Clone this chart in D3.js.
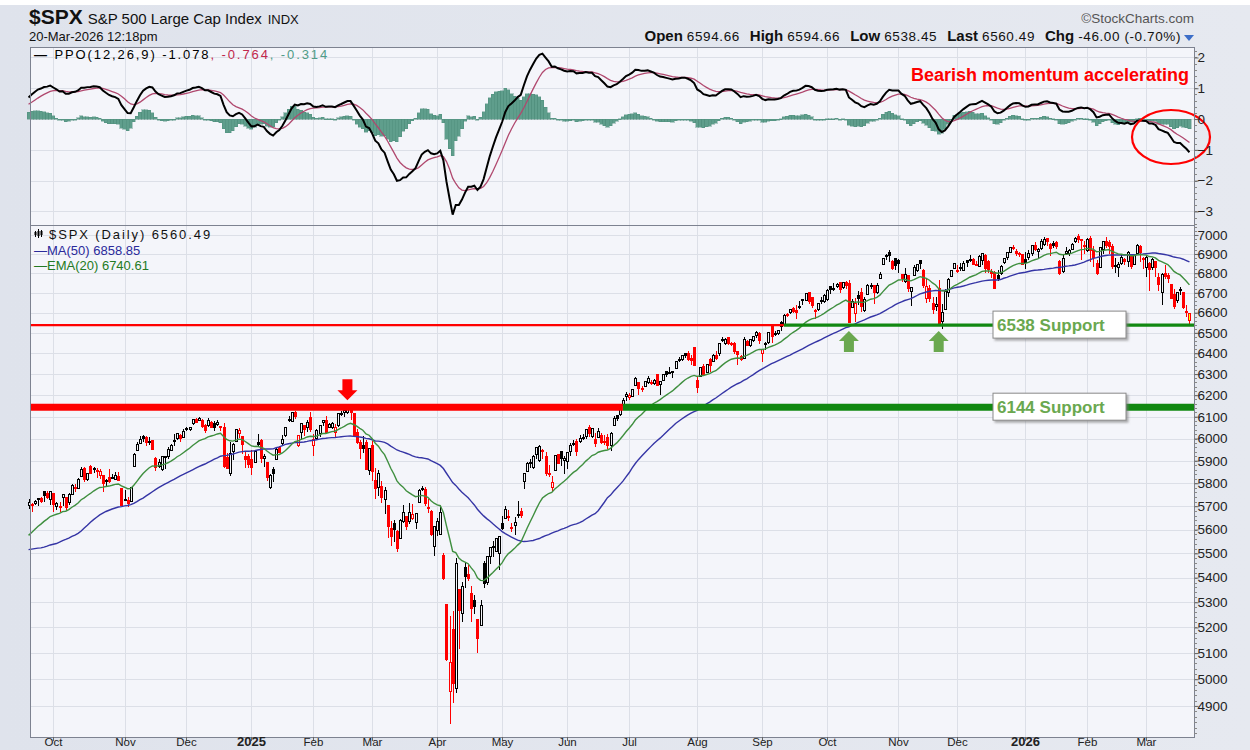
<!DOCTYPE html>
<html>
<head>
<meta charset="utf-8">
<script src="https://cdn.jsdelivr.net/npm/d3@7"></script>
<style>
  body { margin: 0; background: #fff; }
  text { font-family: "Liberation Sans", Arial, sans-serif; }
</style>
</head>
<body>
<svg id="chart" width="1250" height="750"></svg>
<script>
// ---------------------------------------------------------------
// Data: daily OHLC for $SPX, [open, high, low, close]
// ---------------------------------------------------------------

// closes before the first visible bar (only used to seed the averages / PPO)
const warmupCloses = [
  5283, 5291, 5354, 5352, 5347, 5360, 5375, 5421, 5433, 5431, 5473, 5487, 5473, 5464, 5447, 5469, 5477, 5482, 5460,
  5475, 5509, 5537, 5567, 5572, 5577, 5633, 5584, 5615, 5631, 5667, 5588, 5544, 5505, 5564, 5555, 5427, 5399, 5459, 5463, 5436, 5522,
  5446, 5346, 5186, 5240, 5199, 5319, 5344, 5344, 5434, 5455, 5543, 5554, 5608, 5597, 5620, 5571, 5634, 5616, 5625, 5592, 5592, 5648,
  5528, 5520, 5503, 5408, 5471, 5496, 5554, 5596, 5626, 5634, 5635, 5618
];

const barsSep24 = [
  [5702,5733,5686,5714],[5709,5716,5677,5703],[5712,5725,5704,5719],[5727,5736,5702,5733],
  [5733,5741,5714,5722],[5762,5767,5717,5745],[5755,5765,5730,5738],[5727,5763,5704,5762]
];
const barsOct24 = [
  [5757,5757,5677,5709],[5698,5720,5683,5710],[5698,5718,5675,5700],[5737,5753,5703,5751],
  [5737,5739,5684,5696],[5714,5757,5704,5751],[5752,5797,5752,5792],[5778,5796,5763,5780],
  [5775,5823,5775,5815],[5829,5871,5829,5860],[5866,5871,5804,5815],[5816,5846,5809,5842],
  [5875,5879,5840,5841],[5860,5872,5846,5865],[5858,5866,5824,5854],[5833,5864,5820,5851],
  [5835,5835,5762,5797],[5810,5817,5784,5810],[5826,5862,5800,5808],[5826,5843,5822,5824],
  [5815,5848,5813,5833],[5832,5851,5810,5814],[5775,5775,5703,5705]
];
const barsNov24 = [
  [5723,5772,5723,5729],[5725,5741,5696,5713],[5722,5783,5722,5783],[5873,5936,5873,5929],
  [5947,5983,5947,5973],[5977,6012,5976,5996],[6009,6017,5986,6001],[6003,6010,5966,5984],
  [5985,6009,5970,5985],[5989,5993,5946,5949],[5912,5916,5853,5871],[5874,5909,5866,5894],
  [5860,5920,5855,5917],[5917,5920,5861,5917],[5917,5963,5907,5949],[5944,5973,5943,5969],
  [5993,6020,5964,5987],[6000,6026,5992,6022],[6015,6021,5984,5999],[6003,6044,6003,6032]
];
const barsDec24 = [
  [6040,6053,6035,6047],[6042,6053,6033,6050],[6069,6089,6061,6086],[6089,6092,6071,6075],
  [6081,6099,6079,6090],[6083,6088,6048,6053],[6058,6066,6024,6035],[6061,6092,6053,6084],
  [6074,6079,6051,6051],[6068,6078,6035,6051],[6063,6085,6058,6074],[6053,6057,6036,6051],
  [6048,6070,5868,5872],[5913,5935,5866,5867],[5842,5982,5833,5931],[5941,5979,5902,5974],
  [5985,6041,5983,6040],[6025,6050,6004,6038],[6007,6007,5932,5971],[5920,5941,5869,5907],
  [5920,5930,5867,5882]
];
const barsJan25 = [
  [5904,5949,5836,5869],[5892,5950,5889,5942],[5983,6021,5960,5975],[5993,6000,5890,5909],
  [5910,5928,5874,5918],[5890,5890,5809,5827],[5782,5842,5773,5836],[5859,5871,5807,5843],
  [5906,5961,5906,5950],[5961,5965,5935,5937],[5976,6014,5967,5997],[6015,6052,6006,6049],
  [6081,6101,6077,6086],[6076,6119,6074,6119],[6121,6128,6089,6101],[5970,6018,5962,6012],
  [6026,6069,5995,6068],[6058,6063,6013,6039],[6051,6086,6029,6071],[6097,6121,6030,6041]
];
const barsFeb25 = [
  [5970,6022,5923,5995],[5998,6042,5991,6038],[6021,6062,6007,6061],[6072,6084,6055,6084],
  [6083,6101,6020,6026],[6048,6073,6048,6066],[6050,6076,6043,6069],[6026,6064,6004,6052],
  [6061,6116,6051,6115],[6115,6127,6104,6115],[6121,6129,6099,6130],[6118,6147,6111,6144],
  [6134,6134,6084,6118],[6115,6115,6008,6013],[6027,6043,5977,5983],[5983,5992,5908,5955],
  [5970,6010,5933,5956],[5982,5994,5858,5862],[5857,5959,5837,5955]
];
const barsMar25 = [
  [5969,5987,5810,5850],[5812,5866,5733,5778],[5782,5860,5743,5843],[5787,5812,5712,5739],
  [5727,5783,5667,5770],[5705,5705,5565,5615],[5603,5636,5529,5572],[5624,5642,5546,5599],
  [5594,5598,5505,5522],[5563,5645,5563,5639],[5635,5704,5628,5675],[5655,5659,5597,5615],
  [5633,5715,5622,5675],[5646,5711,5641,5663],[5631,5670,5603,5668],[5718,5775,5718,5768],
  [5775,5786,5765,5777],[5771,5784,5700,5712],[5696,5732,5671,5693],[5679,5685,5573,5581],
  [5527,5616,5489,5612]
];
const barsApr25 = [
  [5598,5650,5571,5633],[5580,5695,5578,5671],[5492,5500,5390,5397],[5292,5292,5069,5074],
  [4953,5246,4835,5062],[5193,5267,4910,4983],[4966,5481,4950,5457],[5353,5353,5115,5268],
  [5256,5381,5221,5363],[5441,5459,5358,5406],[5412,5450,5387,5397],[5336,5367,5220,5276],
  [5306,5328,5255,5283],[5232,5232,5101,5158],[5207,5309,5207,5288],[5457,5469,5357,5376],
  [5381,5490,5371,5485],[5489,5528,5455,5525],[5529,5553,5484,5529],[5508,5563,5505,5561],
  [5500,5569,5433,5569]
];
const barsMay25 = [
  [5626,5659,5597,5604],[5646,5700,5646,5687],[5656,5683,5636,5650],[5605,5629,5588,5607],
  [5619,5654,5579,5631],[5664,5721,5650,5664],[5679,5691,5650,5660],[5808,5845,5776,5844],
  [5854,5894,5854,5887],[5888,5907,5868,5893],[5869,5924,5862,5917],[5929,5959,5907,5958],
  [5902,5969,5896,5964],[5945,5954,5908,5940],[5921,5939,5830,5845],[5842,5879,5826,5842],
  [5781,5830,5767,5803],[5855,5922,5855,5922],[5926,5931,5885,5889],[5939,5944,5876,5912],
  [5903,5922,5843,5912]
];
const barsJun25 = [
  [5896,5937,5861,5936],[5939,5981,5922,5970],[5978,5991,5967,5971],[5985,5999,5921,5939],
  [5987,6017,5978,6000],[6004,6022,5994,6006],[6010,6043,6000,6039],[6050,6060,6008,6022],
  [6010,6046,6004,6045],[5997,6027,5963,5977],[6005,6050,6005,6033],[6012,6024,5974,5983],
  [5988,6018,5971,5981],[6005,6019,5953,5968],[5970,6028,5943,6025],[6061,6101,6061,6092],
  [6104,6108,6080,6092],[6112,6146,6105,6141],[6151,6187,6132,6173],[6193,6215,6175,6205]
];
const barsJul25 = [
  [6187,6211,6177,6198],[6192,6228,6191,6227],[6246,6285,6246,6279],[6259,6263,6201,6230],
  [6233,6242,6217,6226],[6241,6269,6237,6263],[6262,6290,6251,6280],[6256,6270,6247,6260],
  [6255,6275,6247,6269],[6296,6302,6242,6244],[6250,6265,6201,6264],[6268,6301,6265,6297],
  [6313,6316,6285,6297],[6304,6336,6303,6306],[6307,6310,6282,6310],[6326,6360,6322,6359],
  [6369,6381,6360,6363],[6370,6390,6363,6389],[6397,6401,6378,6390],[6399,6410,6363,6371],
  [6375,6393,6343,6363],[6428,6428,6337,6339]
];
const barsAug25 = [
  [6271,6288,6212,6238],[6287,6330,6284,6330],[6337,6346,6290,6299],[6309,6350,6307,6345],
  [6370,6379,6309,6340],[6358,6395,6358,6389],[6389,6410,6366,6373],[6397,6446,6386,6446],
  [6462,6481,6457,6467],[6449,6473,6441,6469],[6478,6481,6441,6450],[6445,6456,6437,6449],
  [6446,6457,6396,6411],[6407,6408,6343,6396],[6384,6393,6361,6370],[6375,6478,6374,6467],
  [6458,6467,6438,6439],[6439,6466,6430,6466],[6462,6483,6457,6481],[6486,6508,6476,6502],
  [6499,6502,6443,6460]
];
const barsSep25 = [
  [6401,6416,6360,6416],[6445,6454,6416,6448],[6452,6503,6445,6502],[6532,6533,6449,6482],
  [6498,6509,6484,6495],[6498,6515,6488,6513],[6550,6556,6509,6532],[6539,6592,6538,6587],
  [6593,6600,6577,6584],[6601,6616,6594,6615],[6621,6626,6600,6607],[6611,6638,6569,6600],
  [6632,6656,6617,6632],[6661,6671,6637,6664],[6659,6695,6656,6694],[6700,6701,6641,6657],
  [6674,6680,6623,6638],[6609,6620,6570,6605],[6614,6650,6607,6644],[6661,6679,6642,6661],
  [6657,6693,6648,6688]
];
const barsOct25 = [
  [6664,6719,6659,6711],[6731,6731,6696,6715],[6722,6750,6708,6716],[6734,6749,6725,6740],
  [6751,6755,6700,6715],[6726,6756,6718,6754],[6755,6762,6719,6735],[6746,6764,6550,6553],
  [6624,6667,6624,6655],[6594,6676,6551,6644],[6684,6711,6639,6671],[6699,6724,6602,6629],
  [6612,6679,6605,6664],[6690,6745,6690,6735],[6737,6752,6717,6735],[6738,6741,6645,6699],
  [6701,6749,6696,6738],[6775,6808,6768,6792],[6843,6876,6843,6875],[6889,6901,6869,6891],
  [6908,6920,6856,6891],[6859,6869,6815,6822],[6874,6877,6815,6840]
];
const barsNov25 = [
  [6867,6876,6803,6852],[6794,6797,6753,6772],[6760,6829,6751,6796],[6787,6791,6704,6720],
  [6708,6731,6631,6729],[6789,6841,6789,6832],[6816,6848,6806,6847],[6866,6870,6820,6851],
  [6815,6822,6724,6737],[6669,6775,6647,6734],[6722,6738,6653,6672],[6648,6677,6592,6617],
  [6631,6680,6607,6642],[6722,6767,6535,6539],[6557,6642,6521,6603],[6618,6717,6618,6705],
  [6700,6777,6681,6766],[6782,6818,6779,6813],[6822,6850,6822,6849]
];
const barsDec25 = [
  [6812,6843,6800,6812],[6830,6851,6810,6829],[6815,6862,6810,6850],[6866,6868,6834,6857],
  [6867,6895,6858,6870],[6872,6880,6841,6847],[6846,6864,6835,6841],[6837,6895,6834,6887],
  [6866,6904,6845,6901],[6890,6902,6800,6827],[6860,6866,6801,6817],[6810,6820,6776,6800],
  [6805,6812,6720,6721],[6790,6815,6760,6775],[6800,6840,6790,6834],[6855,6880,6850,6878],
  [6880,6912,6870,6909],[6910,6937,6905,6932],[6935,6945,6920,6930],[6915,6924,6890,6905],
  [6905,6910,6885,6896],[6895,6900,6840,6845]
];
const barsJan26 = [
  [6870,6912,6820,6858],[6880,6920,6870,6902],[6905,6945,6890,6944],[6945,6965,6915,6921],
  [6915,6930,6880,6921],[6930,6980,6920,6966],[6950,6990,6940,6977],[6980,6986,6940,6963],
  [6950,6955,6890,6926],[6955,6970,6930,6944],[6960,6968,6925,6940],[6860,6870,6790,6797],
  [6810,6900,6800,6876],[6900,6935,6895,6913],[6905,6925,6890,6916],[6925,6960,6920,6950],
  [6965,6990,6955,6979],[6990,7003,6960,6978],[6975,6980,6870,6969],[6945,6970,6900,6939]
];
const barsFeb26 = [
  [6920,6985,6910,6976],[6980,6993,6860,6918],[6920,6940,6830,6883],[6850,6870,6790,6798],
  [6830,6935,6825,6932],[6925,6970,6900,6964],[6965,6990,6930,6942],[6960,6975,6900,6941],
  [6940,6950,6820,6833],[6840,6880,6800,6836],[6830,6860,6780,6843],[6850,6900,6840,6881],
  [6870,6880,6840,6862],[6860,6915,6830,6909],[6890,6895,6820,6837],[6845,6900,6840,6890],
  [6900,6950,6895,6946],[6940,6945,6860,6908],[6870,6885,6820,6878]
];
const barsMar26 = [
  [6830,6890,6780,6881],[6850,6860,6710,6817],[6830,6880,6815,6869],[6860,6865,6780,6830],
  [6780,6800,6710,6740],[6700,6800,6640,6795],[6800,6840,6770,6781],[6790,6800,6750,6775],
  [6740,6745,6670,6672],[6690,6720,6620,6632],[6660,6700,6650,6699],[6710,6730,6690,6716],
  [6700,6705,6620,6624],[6600,6640,6580,6606],[6594.66,6594.66,6538.45,6560.49]
];

// market holidays inside the window (used to build the trading-day axis)
const holidays = [
  "2024-11-28","2024-12-25","2025-01-01","2025-01-09","2025-01-20","2025-02-17","2025-04-18",
  "2025-05-26","2025-06-19","2025-07-04","2025-09-01","2025-11-27","2025-12-25","2026-01-01",
  "2026-01-19","2026-02-16"
];

const priceTicks = d3.range(4900, 7001, 100);
const ppoTicks = [2, 1, 0, -1, -2, -3];

// horizontal support lines: level, and the day the line turns from red to green
const supportLevels = [6538, 6144];
const supportFlipDates = ["2025-09-11", "2025-06-27"];
const supportLabels = ["6538 Support", "6144 Support"];
// arrows marking the top and the two tests of support
const upArrowDates = ["2025-10-10", "2025-11-20"];
const downArrowDates = ["2025-02-19"];

// ---------------------------------------------------------------
// Layout
// ---------------------------------------------------------------
const W = 1250, H = 750;
const plotL = 30, plotR = 1194;
const ppoTop = 47, ppoBot = 225;
const priceTop = 225, priceBot = 737;
const plotBg = "#f4f5fa", gridCol = "#dcdfe7";
const upCol = "#000000", downCol = "#ff0000";

const svg = d3.select("#chart");

// Build trading days
const fmt = d3.utcFormat("%Y-%m-%d");
const allDays = d3.utcDays(new Date(Date.UTC(2024, 8, 19)), new Date(Date.UTC(2026, 2, 21)))
    .filter(d => d.getUTCDay() % 6 !== 0 && !holidays.includes(fmt(d)));

const barsAll = [].concat(barsSep24, barsOct24, barsNov24, barsDec24, barsJan25, barsFeb25,
    barsMar25, barsApr25, barsMay25, barsJun25, barsJul25, barsAug25, barsSep25, barsOct25,
    barsNov25, barsDec25, barsJan26, barsFeb26, barsMar26);

const n = Math.min(allDays.length, barsAll.length);
const days = allDays.slice(allDays.length - n);
const bars = barsAll.slice(barsAll.length - n).map((b, i) => ({
    date: days[i], key: fmt(days[i]), o: b[0], h: b[1], l: b[2], c: b[3]
}));

// Indicators
const closes = warmupCloses.concat(bars.map(b => b.c));
const off = warmupCloses.length;

function ema(vals, len) {
    const k = 2 / (len + 1);
    const out = [];
    let prev = null, start = vals.findIndex(v => v != null);
    vals.forEach((v, i) => {
        if (i < start + len - 1) { out.push(null); return; }
        if (i === start + len - 1) { prev = d3.mean(vals.slice(start, start + len)); out.push(prev); return; }
        prev = v * k + prev * (1 - k);
        out.push(prev);
    });
    return out;
}
function sma(vals, len) {
    return vals.map((v, i) => i < len - 1 ? null : d3.mean(vals.slice(i - len + 1, i + 1)));
}

const ema12 = ema(closes, 12), ema26 = ema(closes, 26);
const ppo = closes.map((c, i) => (ema12[i] == null || ema26[i] == null) ? null : (ema12[i] - ema26[i]) / ema26[i] * 100);
const signal = ema(ppo, 9);
const hist = ppo.map((p, i) => (p == null || signal[i] == null) ? null : p - signal[i]);
const ma50 = sma(closes, 50);
const ema20 = ema(closes, 20);

bars.forEach((b, i) => {
    b.prev = closes[off + i - 1];
    b.ma50 = ma50[off + i];
    b.ema20 = ema20[off + i];
    b.ppo = ppo[off + i];
    b.sig = signal[off + i];
    b.hist = hist[off + i];
});

// Scales
const x = d3.scaleBand().domain(bars.map(b => b.key)).range([27, 1191]).paddingInner(0);
const xc = k => x(k) + x.bandwidth() / 2;
const yP = d3.scaleLog().domain([4786, 7053]).range([priceBot, priceTop]);
const yO = d3.scaleLinear().domain([-3.44, 2.34]).range([ppoBot, ppoTop]);

// ---------------------------------------------------------------
// Background / frame
// ---------------------------------------------------------------
const defs = svg.append("defs");
const bgGrad = defs.append("linearGradient").attr("id", "bg").attr("x1", 0).attr("y1", 0).attr("x2", 1).attr("y2", 0);
bgGrad.append("stop").attr("offset", "0%").attr("stop-color", "#dfe3ec");
bgGrad.append("stop").attr("offset", "100%").attr("stop-color", "#e6e9f0");
const shadow = defs.append("filter").attr("id", "shadow").attr("x", "-10%").attr("y", "-20%").attr("width", "130%").attr("height", "160%");
shadow.append("feDropShadow").attr("dx", 2).attr("dy", 2).attr("stdDeviation", 1.2).attr("flood-color", "#777").attr("flood-opacity", 0.6);

svg.append("rect").attr("x", 0).attr("y", 0).attr("width", W).attr("height", H).attr("fill", "#fff");
svg.append("rect").attr("x", 0).attr("y", 5).attr("width", W).attr("height", H - 5).attr("fill", "url(#bg)");

[[ppoTop, ppoBot], [priceTop, priceBot]].forEach(([t, b]) => {
    svg.append("rect").attr("x", plotL).attr("y", t).attr("width", plotR - plotL).attr("height", b - t)
        .attr("fill", plotBg);
});

// Month ticks
const monthIdx = bars.map((b, i) => i).filter(i => i > 0 && bars[i].date.getUTCMonth() !== bars[i - 1].date.getUTCMonth());
const gGrid = svg.append("g").attr("shape-rendering", "crispEdges");
monthIdx.forEach(i => {
    const xx = Math.round(xc(bars[i].key)) + 0.5;
    gGrid.append("line").attr("x1", xx).attr("x2", xx).attr("y1", ppoTop).attr("y2", ppoBot).attr("stroke", gridCol);
    gGrid.append("line").attr("x1", xx).attr("x2", xx).attr("y1", priceTop).attr("y2", priceBot).attr("stroke", gridCol);
});
priceTicks.forEach(v => {
    const yy = Math.round(yP(v)) + 0.5;
    gGrid.append("line").attr("x1", plotL).attr("x2", plotR).attr("y1", yy).attr("y2", yy).attr("stroke", gridCol);
});
ppoTicks.forEach(v => {
    const yy = Math.round(yO(v)) + 0.5;
    gGrid.append("line").attr("x1", plotL).attr("x2", plotR).attr("y1", yy).attr("y2", yy).attr("stroke", gridCol);
});

// ---------------------------------------------------------------
// PPO panel
// ---------------------------------------------------------------
const gPpo = svg.append("g");
gPpo.append("g").attr("shape-rendering", "crispEdges")
    .selectAll("rect").data(bars.filter(b => b.hist != null)).join("rect")
    .attr("x", b => x(b.key))
    .attr("width", x.bandwidth())
    .attr("y", b => Math.min(yO(0), yO(b.hist)))
    .attr("height", b => Math.max(1, Math.abs(yO(b.hist) - yO(0))))
    .attr("fill", "#5f9e8c")
    .attr("stroke", "#4a8a78").attr("stroke-width", 0.4);

gPpo.append("path").datum(bars)
    .attr("fill", "none").attr("stroke", "#b0486e").attr("stroke-width", 1.3)
    .attr("d", d3.line().x(b => xc(b.key)).y(b => yO(b.sig)));
gPpo.append("path").datum(bars)
    .attr("fill", "none").attr("stroke", "#000").attr("stroke-width", 2)
    .attr("d", d3.line().x(b => xc(b.key)).y(b => yO(b.ppo)));

// PPO legend
const ppoLeg = svg.append("text").attr("x", 34).attr("y", 59).attr("font-family", "DejaVu Sans, Verdana, sans-serif")
    .attr("font-size", 13).attr("letter-spacing", 1.9);
ppoLeg.append("tspan").attr("font-weight", "bold").text("\u2014");
ppoLeg.append("tspan").attr("fill", "#000").text(" PPO(12,26,9) -1.078");
ppoLeg.append("tspan").attr("fill", "#c0284c").text(", -0.764");
ppoLeg.append("tspan").attr("fill", "#4f9c88").text(", -0.314");

svg.append("text").attr("x", 1189).attr("y", 81).attr("text-anchor", "end")
    .attr("font-size", 18).attr("font-weight", "bold").attr("fill", "#ff0000")
    .text("Bearish momentum accelerating");

svg.append("ellipse").attr("cx", 1171).attr("cy", 137).attr("rx", 39).attr("ry", 27)
    .attr("fill", "none").attr("stroke", "#ff0000").attr("stroke-width", 2.2);

// ---------------------------------------------------------------
// Price panel
// ---------------------------------------------------------------
const gPrice = svg.append("g");
const candles = gPrice.selectAll("g.candle").data(bars).join("g").attr("class", "candle")
    .attr("shape-rendering", "crispEdges");
candles.append("line")
    .attr("x1", b => Math.round(xc(b.key)) + 0.5).attr("x2", b => Math.round(xc(b.key)) + 0.5)
    .attr("y1", b => yP(b.h)).attr("y2", b => yP(b.l))
    .attr("stroke", b => b.c >= b.prev ? upCol : downCol);
candles.append("rect")
    .attr("x", b => Math.round(xc(b.key)) - 0.5)
    .attr("width", 2)
    .attr("y", b => yP(Math.max(b.o, b.c)))
    .attr("height", b => Math.max(1, Math.abs(yP(b.o) - yP(b.c))))
    .attr("fill", (b, i) => i === bars.length - 1 ? "#ffff00" : (b.c > b.o ? plotBg : (b.c >= b.prev ? upCol : downCol)))
    .attr("stroke", b => b.c >= b.prev ? upCol : downCol)
    .attr("stroke-width", 1);

gPrice.append("path").datum(bars)
    .attr("fill", "none").attr("stroke", "#3535a5").attr("stroke-width", 1.4)
    .attr("d", d3.line().x(b => xc(b.key)).y(b => yP(b.ma50)));
gPrice.append("path").datum(bars)
    .attr("fill", "none").attr("stroke", "#3f8f3f").attr("stroke-width", 1.4)
    .attr("d", d3.line().x(b => xc(b.key)).y(b => yP(b.ema20)));

// support lines
const thick = [2.2, 7];
const thickG = [3.2, 7];
supportLevels.forEach((lv, i) => {
    const yy = yP(lv);
    const fx = xc(supportFlipDates[i]);
    svg.append("line").attr("x1", plotL).attr("x2", fx).attr("y1", yy).attr("y2", yy)
        .attr("stroke", "#ff0000").attr("stroke-width", thick[i]);
    svg.append("line").attr("x1", fx).attr("x2", plotR).attr("y1", yy).attr("y2", yy)
        .attr("stroke", "#118811").attr("stroke-width", thickG[i]);
    const bx = 993, bw = 133, bh = 27;
    svg.append("rect").attr("x", bx).attr("y", yy - 14).attr("width", bw).attr("height", bh)
        .attr("fill", "#fff").attr("stroke", "#8a8a8a").attr("stroke-width", 1).attr("filter", "url(#shadow)");
    svg.append("text").attr("x", bx + 4).attr("y", yy + 6).attr("font-size", 17).attr("font-weight", "bold")
        .attr("fill", "#6aa84f").text(supportLabels[i]);
});

// arrows
function blockArrow(cx, tipY, dir, col) {
    // dir = 1 points down, -1 points up
    const h = 21, sw = 5, hw = 10, head = 10;
    const baseY = tipY - dir * h;
    const neckY = tipY - dir * head;
    const pts = [
        [cx - sw, baseY], [cx + sw, baseY], [cx + sw, neckY], [cx + hw, neckY],
        [cx, tipY], [cx - hw, neckY], [cx - sw, neckY]
    ];
    svg.append("path").attr("d", "M" + pts.join("L") + "Z").attr("fill", col);
}
downArrowDates.forEach(d => blockArrow(xc(d), yP(6144) - 7, 1, "#ff0000"));
upArrowDates.forEach(d => blockArrow(xc(d), yP(6538) + 6, -1, "#6aa84f"));

// price legend
const legX = 34;
const icon = svg.append("g").attr("transform", `translate(${legX},228)`);
[[1, 3, 9, 4, 7], [4, 1, 10, 3, 8], [7, 2, 9, 3, 7]].forEach(([cx, t, b, bt, bb]) => {
    icon.append("line").attr("x1", cx + 0.5).attr("x2", cx + 0.5).attr("y1", t).attr("y2", b).attr("stroke", "#000");
    icon.append("rect").attr("x", cx - 0.5).attr("y", bt).attr("width", 2).attr("height", bb - bt).attr("fill", "#000");
});
svg.append("text").attr("x", 49).attr("y", 239).attr("font-family", "DejaVu Sans, Verdana, sans-serif")
    .attr("font-size", 13).attr("letter-spacing", 1.9).attr("fill", "#111").text("$SPX (Daily) 6560.49");
svg.append("text").attr("x", 34).attr("y", 255).attr("font-size", 13).attr("fill", "#2a2a9a")
    .text("\u2014MA(50) 6858.85");
svg.append("text").attr("x", 34).attr("y", 270).attr("font-size", 13).attr("fill", "#237a23")
    .text("\u2014EMA(20) 6740.61");

// ---------------------------------------------------------------
// Frames and axes
// ---------------------------------------------------------------
const gFrame = svg.append("g").attr("shape-rendering", "crispEdges");
[[ppoTop, ppoBot], [priceTop, priceBot]].forEach(([t, b]) => {
    gFrame.append("rect").attr("x", plotL + 0.5).attr("y", t + 0.5).attr("width", plotR - plotL).attr("height", b - t)
        .attr("fill", "none").attr("stroke", "#7d8290");
});

// right axis: price
const yAxisP = d3.axisRight(yP).tickValues(priceTicks).tickSize(4).tickFormat(d3.format("d"));
const gAP = svg.append("g").attr("transform", `translate(${plotR + 0.5},0)`).call(yAxisP);
// right axis: ppo
const yAxisO = d3.axisRight(yO).tickValues(ppoTicks).tickSize(4).tickFormat(d3.format("d"));
const gAO = svg.append("g").attr("transform", `translate(${plotR + 0.5},0)`).call(yAxisO);
[gAP, gAO].forEach(g => {
    g.select(".domain").remove();
    g.selectAll("line").attr("stroke", "#666");
    g.selectAll("text").attr("x", 3).attr("font-family", "Liberation Sans, Arial, sans-serif")
        .attr("font-size", 13.5).attr("fill", "#222");
});
// minor ticks
const minorP = d3.range(4800, 7060, 20).filter(v => yP(v) > priceTop && yP(v) < priceBot);
const minorO = d3.range(-3.4, 2.4, 0.2).filter(v => yO(v) > ppoTop && yO(v) < ppoBot);
gFrame.selectAll("line.mp").data(minorP).join("line").attr("class", "mp")
    .attr("x1", plotR).attr("x2", plotR + 3).attr("y1", v => Math.round(yP(v)) + 0.5).attr("y2", v => Math.round(yP(v)) + 0.5)
    .attr("stroke", "#888");
gFrame.selectAll("line.mo").data(minorO).join("line").attr("class", "mo")
    .attr("x1", plotR).attr("x2", plotR + 3).attr("y1", v => Math.round(yO(v)) + 0.5).attr("y2", v => Math.round(yO(v)) + 0.5)
    .attr("stroke", "#888");

// bottom month axis
const gX = svg.append("g");
monthIdx.forEach(i => {
    const d = bars[i].date;
    const xx = Math.round(xc(bars[i].key)) + 0.5;
    gX.append("line").attr("x1", xx).attr("x2", xx).attr("y1", priceBot).attr("y2", priceBot + 4)
        .attr("stroke", "#666").attr("shape-rendering", "crispEdges");
    const isYear = d.getUTCMonth() === 0;
    gX.append("text").attr("x", xx).attr("y", 746).attr("text-anchor", "middle")
        .attr("font-family", isYear ? "Liberation Sans, Arial, sans-serif" : "DejaVu Sans, Verdana, sans-serif")
        .attr("font-size", isYear ? 13 : 11.5).attr("font-weight", isYear ? "bold" : "normal").attr("fill", "#222")
        .text(isYear ? d3.utcFormat("%Y")(d) : d3.utcFormat("%b")(d));
});

// ---------------------------------------------------------------
// Header
// ---------------------------------------------------------------
const t1 = svg.append("text").attr("x", 29).attr("y", 24).attr("fill", "#111");
t1.append("tspan").attr("font-size", 21).attr("font-weight", "bold").text("$SPX");
t1.append("tspan").attr("font-size", 15).attr("dx", 5).text("S&P 500 Large Cap Index");
t1.append("tspan").attr("font-size", 13).attr("dx", 6).text("INDX");
svg.append("text").attr("x", 29).attr("y", 41).attr("font-size", 13).attr("fill", "#111").text("20-Mar-2026 12:18pm");

svg.append("text").attr("x", 1194).attr("y", 23).attr("text-anchor", "end").attr("font-size", 13.5).attr("fill", "#555")
    .text("\u00a9StockCharts.com");
const quote = svg.append("text").attr("x", 1181).attr("y", 41).attr("text-anchor", "end").attr("fill", "#111");
[["Open", "6594.66"], ["High", "6594.66"], ["Low", "6538.45"], ["Last", "6560.49"], ["Chg", "-46.00 (-0.70%)"]].forEach(([k, v], i) => {
    quote.append("tspan").attr("font-weight", "bold").attr("font-size", 15).attr("dx", i ? 10 : 0).text(k);
    quote.append("tspan").attr("font-size", 13.5).attr("dx", 4).attr("letter-spacing", 0.6).text(v);
});
svg.append("path").attr("d", "M1184,35 L1194,35 L1189,41 Z").attr("fill", "#3c6ec8");
</script>
</body>
</html>
